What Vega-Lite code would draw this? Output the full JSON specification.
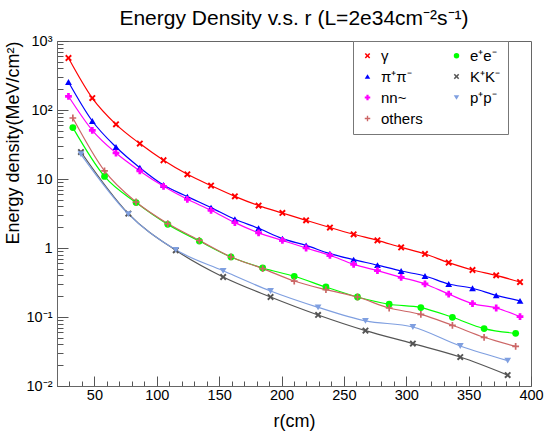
{
  "$schema": "https://vega.github.io/schema/vega-lite/v6.json",
  "width": 474,
  "height": 345,
  "autosize": {"type": "none"},
  "padding": {"left": 57, "top": 41, "right": 16, "bottom": 46},
  "background": "white",
  "config": {
    "font": "Liberation Sans",
    "view": {"stroke": "#666666", "strokeWidth": 1},
    "axis": {"grid": false, "domainColor": "#666666", "tickColor": "#555555", "labelColor": "black", "titleColor": "black", "labelFont": "Liberation Sans", "titleFont": "Liberation Sans", "titleFontWeight": "normal"}
  },
  "title": {
    "text": "Energy Density v.s. r (L=2e34cm⁻²s⁻¹)",
    "font": "Liberation Sans",
    "fontSize": 21,
    "fontWeight": "normal",
    "anchor": "middle",
    "frame": "group",
    "baseline": "alphabetic",
    "offset": 11,
    "dy": 24,
    "color": "black"
  },
  "data": {
    "values": [
      {"s": "γ", "r": 29.2, "v": 567}, {"s": "γ", "r": 48.3, "v": 149}, {"s": "γ", "r": 67.3, "v": 62}, {"s": "γ", "r": 86.4, "v": 32.6}, {"s": "γ", "r": 105.4, "v": 18.7}, {"s": "γ", "r": 124.5, "v": 11.7}, {"s": "γ", "r": 143.5, "v": 8.02}, {"s": "γ", "r": 162.6, "v": 5.61}, {"s": "γ", "r": 181.6, "v": 4.12}, {"s": "γ", "r": 200.7, "v": 3.22}, {"s": "γ", "r": 219.7, "v": 2.52}, {"s": "γ", "r": 238.8, "v": 1.98}, {"s": "γ", "r": 257.8, "v": 1.58}, {"s": "γ", "r": 276.9, "v": 1.29}, {"s": "γ", "r": 295.9, "v": 1.02}, {"s": "γ", "r": 315, "v": 0.819}, {"s": "γ", "r": 334, "v": 0.614}, {"s": "γ", "r": 353.1, "v": 0.48}, {"s": "γ", "r": 372.1, "v": 0.402}, {"s": "γ", "r": 391.2, "v": 0.321},
      {"s": "π⁺π⁻", "r": 29.2, "v": 255}, {"s": "π⁺π⁻", "r": 48.3, "v": 69.3}, {"s": "π⁺π⁻", "r": 67.3, "v": 29.1}, {"s": "π⁺π⁻", "r": 86.4, "v": 14.6}, {"s": "π⁺π⁻", "r": 105.4, "v": 8.19}, {"s": "π⁺π⁻", "r": 124.5, "v": 5.56}, {"s": "π⁺π⁻", "r": 143.5, "v": 3.85}, {"s": "π⁺π⁻", "r": 162.6, "v": 2.61}, {"s": "π⁺π⁻", "r": 181.6, "v": 1.93}, {"s": "π⁺π⁻", "r": 200.7, "v": 1.37}, {"s": "π⁺π⁻", "r": 219.7, "v": 1.09}, {"s": "π⁺π⁻", "r": 238.8, "v": 0.83}, {"s": "π⁺π⁻", "r": 257.8, "v": 0.679}, {"s": "π⁺π⁻", "r": 276.9, "v": 0.565}, {"s": "π⁺π⁻", "r": 295.9, "v": 0.464}, {"s": "π⁺π⁻", "r": 315, "v": 0.393}, {"s": "π⁺π⁻", "r": 334, "v": 0.301}, {"s": "π⁺π⁻", "r": 353.1, "v": 0.261}, {"s": "π⁺π⁻", "r": 372.1, "v": 0.206}, {"s": "π⁺π⁻", "r": 391.2, "v": 0.171},
      {"s": "nn~", "r": 29.2, "v": 158}, {"s": "nn~", "r": 48.3, "v": 50.8}, {"s": "nn~", "r": 67.3, "v": 23.8}, {"s": "nn~", "r": 86.4, "v": 13.1}, {"s": "nn~", "r": 105.4, "v": 7.84}, {"s": "nn~", "r": 124.5, "v": 5.08}, {"s": "nn~", "r": 143.5, "v": 3.52}, {"s": "nn~", "r": 162.6, "v": 2.33}, {"s": "nn~", "r": 181.6, "v": 1.66}, {"s": "nn~", "r": 200.7, "v": 1.29}, {"s": "nn~", "r": 219.7, "v": 1.0}, {"s": "nn~", "r": 238.8, "v": 0.784}, {"s": "nn~", "r": 257.8, "v": 0.58}, {"s": "nn~", "r": 276.9, "v": 0.47}, {"s": "nn~", "r": 295.9, "v": 0.376}, {"s": "nn~", "r": 315, "v": 0.301}, {"s": "nn~", "r": 334, "v": 0.215}, {"s": "nn~", "r": 353.1, "v": 0.156}, {"s": "nn~", "r": 372.1, "v": 0.135}, {"s": "nn~", "r": 391.2, "v": 0.101},
      {"s": "e⁺e⁻", "r": 32.7, "v": 55.6}, {"s": "e⁺e⁻", "r": 58.1, "v": 10.9}, {"s": "e⁺e⁻", "r": 83.4, "v": 4.55}, {"s": "e⁺e⁻", "r": 108.8, "v": 2.2}, {"s": "e⁺e⁻", "r": 134.1, "v": 1.26}, {"s": "e⁺e⁻", "r": 159.5, "v": 0.741}, {"s": "e⁺e⁻", "r": 184.9, "v": 0.513}, {"s": "e⁺e⁻", "r": 210.2, "v": 0.389}, {"s": "e⁺e⁻", "r": 235.6, "v": 0.272}, {"s": "e⁺e⁻", "r": 260.9, "v": 0.195}, {"s": "e⁺e⁻", "r": 286.3, "v": 0.153}, {"s": "e⁺e⁻", "r": 311.7, "v": 0.137}, {"s": "e⁺e⁻", "r": 337, "v": 0.099}, {"s": "e⁺e⁻", "r": 362.4, "v": 0.068}, {"s": "e⁺e⁻", "r": 387.7, "v": 0.058},
      {"s": "others", "r": 32.7, "v": 76.6}, {"s": "others", "r": 58.1, "v": 13.1}, {"s": "others", "r": 83.4, "v": 4.64}, {"s": "others", "r": 108.8, "v": 2.26}, {"s": "others", "r": 134.1, "v": 1.29}, {"s": "others", "r": 159.5, "v": 0.741}, {"s": "others", "r": 184.9, "v": 0.503}, {"s": "others", "r": 210.2, "v": 0.332}, {"s": "others", "r": 235.6, "v": 0.249}, {"s": "others", "r": 260.9, "v": 0.195}, {"s": "others", "r": 286.3, "v": 0.135}, {"s": "others", "r": 311.7, "v": 0.109}, {"s": "others", "r": 337, "v": 0.0758}, {"s": "others", "r": 362.4, "v": 0.0508}, {"s": "others", "r": 387.7, "v": 0.0376},
      {"s": "K⁺K⁻", "r": 39.2, "v": 24.6}, {"s": "K⁺K⁻", "r": 77.2, "v": 3.15}, {"s": "K⁺K⁻", "r": 115.2, "v": 0.926}, {"s": "K⁺K⁻", "r": 153.2, "v": 0.38}, {"s": "K⁺K⁻", "r": 191.2, "v": 0.195}, {"s": "K⁺K⁻", "r": 229.3, "v": 0.107}, {"s": "K⁺K⁻", "r": 267.3, "v": 0.0635}, {"s": "K⁺K⁻", "r": 305.3, "v": 0.0412}, {"s": "K⁺K⁻", "r": 343.3, "v": 0.0263}, {"s": "K⁺K⁻", "r": 381.3, "v": 0.0144},
      {"s": "p⁺p⁻", "r": 39.2, "v": 22.8}, {"s": "p⁺p⁻", "r": 77.2, "v": 3.1}, {"s": "p⁺p⁻", "r": 115.2, "v": 0.94}, {"s": "p⁺p⁻", "r": 153.2, "v": 0.467}, {"s": "p⁺p⁻", "r": 191.2, "v": 0.238}, {"s": "p⁺p⁻", "r": 229.3, "v": 0.138}, {"s": "p⁺p⁻", "r": 267.3, "v": 0.0878}, {"s": "p⁺p⁻", "r": 305.3, "v": 0.0716}, {"s": "p⁺p⁻", "r": 343.3, "v": 0.038}, {"s": "p⁺p⁻", "r": 381.3, "v": 0.0233}
    ]
  },
  "encoding": {
    "x": {
      "field": "r", "type": "quantitative",
      "scale": {"domain": [20, 400], "nice": false, "zero": false},
      "axis": {
        "title": "r(cm)", "titleFontSize": 18, "titlePadding": 6,
        "values": [20,30,40,50,60,70,80,90,100,110,120,130,140,150,160,170,180,190,200,210,220,230,240,250,260,270,280,290,300,310,320,330,340,350,360,370,380,390,400],
        "labelExpr": "datum.value % 50 === 0 ? datum.label : ''",
        "labelFontSize": 14.5, "labelPadding": 12, "labelFlush": false, "labelOverlap": false,
        "tickSize": {"condition": {"test": "datum.value % 50 === 0", "value": -10}, "value": -5}
      }
    },
    "y": {
      "field": "v", "type": "quantitative",
      "scale": {"type": "log", "domain": [0.01, 1000], "nice": false},
      "axis": {
        "title": "Energy density(MeV/cm²)", "titleFontSize": 18, "titleAnchor": "end", "titlePadding": 4,
        "values": [0.01,0.02,0.03,0.04,0.05,0.06,0.07,0.08,0.09,0.1,0.2,0.3,0.4,0.5,0.6,0.7,0.8,0.9,1,2,3,4,5,6,7,8,9,10,20,30,40,50,60,70,80,90,100,200,300,400,500,600,700,800,900,1000],
        "labelExpr": "datum.value === 1000 ? '10³' : datum.value === 100 ? '10²' : datum.value === 10 ? '10' : datum.value === 1 ? '1' : datum.value === 0.1 ? '10⁻¹' : datum.value === 0.01 ? '10⁻²' : ''",
        "labelFontSize": 14.5, "labelPadding": 16, "labelOverlap": false, "labelFlush": false,
        "tickSize": {"condition": {"test": "indexof([0.01,0.1,1,10,100,1000], datum.value) >= 0", "value": -11}, "value": -6}
      }
    },
    "color": {
      "field": "s", "type": "nominal",
      "scale": {"domain": ["γ", "e⁺e⁻", "π⁺π⁻", "K⁺K⁻", "nn~", "p⁺p⁻", "others"], "range": ["#ff0000", "#00ff00", "#0000ff", "#555555", "#ff00ff", "#7f9fe0", "#cc6666"]},
      "legend": {"title": null, "orient": "none", "legendX": 296, "legendY": 0, "columns": 2, "direction": "horizontal", "fillColor": "white", "strokeColor": "#777777", "padding": 7, "labelFontSize": 15, "labelFont": "Liberation Sans", "symbolSize": 30, "rowPadding": 5, "columnPadding": 26, "labelOffset": 6, "cornerRadius": 0, "symbolStrokeWidth": 0, "symbolOpacity": 1}
    }
  },
  "layer": [
    {
      "mark": {"type": "line", "interpolate": "monotone", "strokeWidth": 1.2}
    },
    {
      "mark": {"type": "point", "filled": true, "size": 46, "opacity": 1, "strokeWidth": 0},
      "encoding": {
        "shape": {
          "field": "s", "type": "nominal",
          "scale": {"domain": ["γ", "e⁺e⁻", "π⁺π⁻", "K⁺K⁻", "nn~", "p⁺p⁻", "others"], "range": ["M-1,-0.6L-0.6,-1L0,-0.4L0.6,-1L1,-0.6L0.4,0L1,0.6L0.6,1L0,0.4L-0.6,1L-1,0.6L-0.4,0Z", "circle", "triangle-up", "M-1,-0.6L-0.6,-1L0,-0.4L0.6,-1L1,-0.6L0.4,0L1,0.6L0.6,1L0,0.4L-0.6,1L-1,0.6L-0.4,0Z", "cross", "triangle-down", "M-1,-0.25H-0.25V-1H0.25V-0.25H1V0.25H0.25V1H-0.25V0.25H-1Z"]},
          "legend": {"title": null, "orient": "none", "legendX": 296, "legendY": 0, "columns": 2, "direction": "horizontal", "fillColor": "white", "strokeColor": "#777777", "padding": 7, "labelFontSize": 15, "labelFont": "Liberation Sans", "symbolSize": 30, "rowPadding": 5, "columnPadding": 26, "labelOffset": 6, "cornerRadius": 0, "symbolStrokeWidth": 0, "symbolOpacity": 1}
        }
      }
    }
  ]
}
